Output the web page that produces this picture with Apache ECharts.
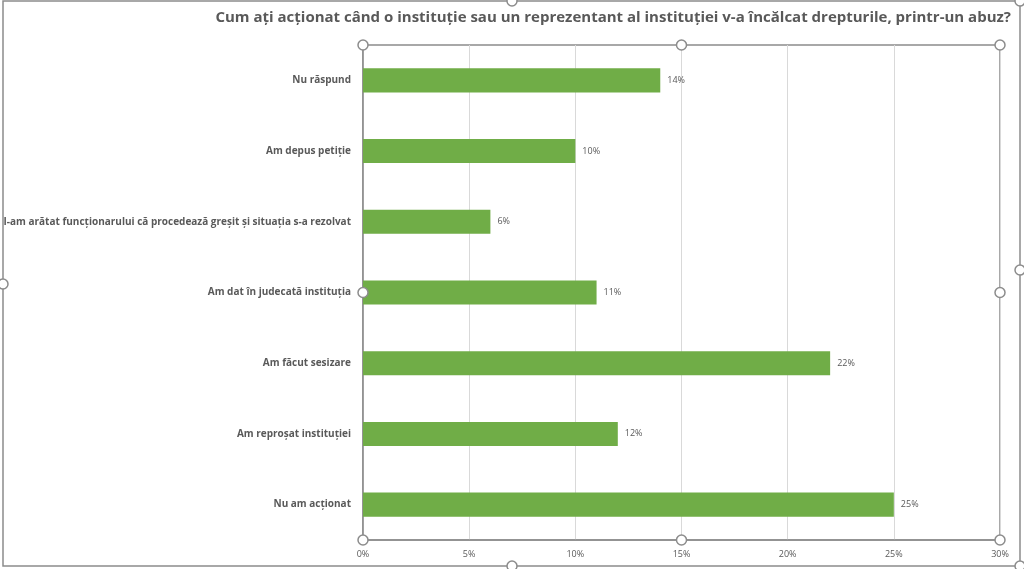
<!DOCTYPE html>
<html>
<head>
<meta charset="utf-8">
<script src="https://cdn.jsdelivr.net/npm/echarts@6/dist/echarts.min.js"></script>
<style>html,body{margin:0;padding:0;background:#fff}#c{width:1024px;height:569px}</style>
</head>
<body>
<div id="c"></div>
<script>
const titleText = "Cum ați acționat când o instituție sau un reprezentant al instituției v-a încălcat drepturile, printr-un abuz?";
const categories = [
  "Nu răspund",
  "Am depus petiție",
  "I-am arătat funcționarului că procedează greșit și situația s-a rezolvat",
  "Am dat în judecată instituția",
  "Am făcut sesizare",
  "Am reproșat instituției",
  "Nu am acționat"
];
const values = [14, 10, 6, 11, 22, 12, 25];
const xMin = 0, xMax = 30, xStep = 5;

const FONT = "'Open Sans', sans-serif";
const GREY = '#8c8c8c';
const TXT = '#595959';
const L = 363, R = 1000, T = 45, B = 540;

function handle(x, y) {
  return { type: 'circle', shape: { cx: x, cy: y, r: 5 }, style: { fill: '#fff', stroke: GREY, lineWidth: 1.5 }, z: 100 };
}
const midX = (L + R) / 2, midY = (T + B) / 2;
const graphics = [
  { type: 'rect', shape: { x: 3, y: 1, width: 1017, height: 565 }, style: { fill: 'none', stroke: GREY, lineWidth: 1.5 }, z: 90 },
  handle(512, 1), handle(1020, 1), handle(1020, 270), handle(1020, 566), handle(512, 566), handle(3, 284),
  handle(L, T), handle(midX, T), handle(R, T), handle(L, midY), handle(R, midY), handle(L, B), handle(midX, B), handle(R, B)
];

const chart = echarts.init(document.getElementById('c'), null, { renderer: 'canvas' });
chart.setOption({
  animation: false,
  backgroundColor: '#fff',
  title: {
    text: titleText, right: 8, top: 5,
    textStyle: { fontFamily: FONT, fontSize: 15, fontWeight: 'bold', color: TXT }
  },
  grid: { left: L, right: 1024 - R, top: T, bottom: 569 - B, show: true, borderColor: GREY, borderWidth: 1.5, containLabel: false, outerBoundsMode: 'none' },
  xAxis: {
    type: 'value', min: xMin, max: xMax, interval: xStep,
    axisLine: { show: true, lineStyle: { color: GREY, width: 1.5 } },
    axisTick: { show: false },
    splitLine: { show: true, lineStyle: { color: '#d9d9d9', width: 1 } },
    axisLabel: { formatter: v => v + '%', color: TXT, fontSize: 9, fontFamily: FONT, margin: 10 }
  },
  yAxis: {
    type: 'category', data: categories, inverse: true,
    axisLine: { show: true, lineStyle: { color: GREY, width: 1.5 } },
    axisTick: { show: false },
    axisLabel: { color: TXT, fontSize: 10, fontWeight: 'bold', fontFamily: FONT, margin: 12 }
  },
  series: [{
    type: 'bar', data: values, barWidth: '34%',
    itemStyle: { color: '#70AD47' },
    label: { show: true, position: 'right', distance: 7, formatter: p => p.value + '%', color: TXT, fontSize: 9, fontFamily: FONT }
  }],
  graphic: graphics
});
</script>
</body>
</html>
